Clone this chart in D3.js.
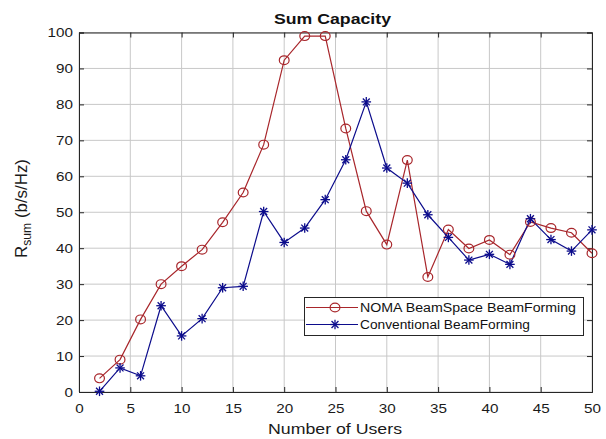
<!DOCTYPE html>
<html><head><meta charset="utf-8">
<script src="https://cdn.jsdelivr.net/npm/d3@7"></script>
<style>body{margin:0;background:#fff}svg{display:block}text{font-family:"Liberation Sans",Arial,sans-serif}</style>
</head><body><svg id="c" width="606" height="439"></svg>
<script>
const users = [2,4,6,8,10,12,14,16,18,20,22,24,26,28,30,32,34,36,38,40,42,44,46,48,50];
const noma = [3.8,9,20.2,30,35,39.6,47.2,55.5,68.8,92.3,99,99,73.3,50.3,41,64.5,32,45.2,39.9,42.3,38.2,47.3,45.6,44.3,38.6];
const conv = [0.2,6.7,4.5,24,15.6,20.4,29,29.4,50.2,41.6,45.6,53.5,64.6,80.7,62.3,58.1,49.3,43,36.7,38.3,35.5,48.2,42.4,39.2,45.1];
const xTicks = [0,5,10,15,20,25,30,35,40,45,50];
const yTicks = [0,10,20,30,40,50,60,70,80,90,100];
const seriesNames = ["NOMA BeamSpace BeamForming","Conventional BeamForming"];

const svg = d3.select("#c");
const L=79,R=592,T=32.5,B=392;
const x = d3.scaleLinear().domain([0,50]).range([L,R]);
const y = d3.scaleLinear().domain([0,100]).range([B,T]);
const red="#a8262b", blue="#0c0c8c";
const S=1.22;

// grid
const g = svg.append("g");
g.selectAll(".gx").data(xTicks).join("line").attr("x1",d=>x(d)).attr("x2",d=>x(d)).attr("y1",T).attr("y2",B).attr("stroke","#c8c8c8").attr("stroke-width",1);
g.selectAll(".gy").data(yTicks).join("line").attr("y1",d=>y(d)).attr("y2",d=>y(d)).attr("x1",L).attr("x2",R).attr("stroke","#c8c8c8").attr("stroke-width",1);

// axes
const ax = svg.append("g").attr("transform",`translate(0,${B})`).call(d3.axisBottom(x).tickValues(xTicks).tickSize(-5).tickPadding(12));
const ay = svg.append("g").attr("transform",`translate(${L},0)`).call(d3.axisLeft(y).tickValues(yTicks).tickSize(-5).tickPadding(6));
const at = svg.append("g").attr("transform",`translate(0,${T})`).call(d3.axisTop(x).tickValues(xTicks).tickSize(-5).tickFormat(""));
const ar = svg.append("g").attr("transform",`translate(${R},0)`).call(d3.axisRight(y).tickValues(yTicks).tickSize(-5).tickFormat(""));
[ax,ay,at,ar].forEach(a=>{
  a.selectAll("path,line").attr("stroke","#262626");
  a.selectAll("text").attr("font-size",12.5).attr("fill","#1a1a1a").attr("font-family","'Liberation Sans',Arial,sans-serif")
   .attr("x",function(){return (+this.getAttribute("x")||0)/S;}).attr("transform",`scale(${S},1)`);
});

// lines
const line = d3.line().x((d,i)=>x(users[i])).y(d=>y(d));
svg.append("path").datum(noma).attr("d",line).attr("fill","none").attr("stroke",red).attr("stroke-width",1.2);
svg.append("path").datum(conv).attr("d",line).attr("fill","none").attr("stroke",blue).attr("stroke-width",1.2);

svg.append("g").selectAll("ellipse").data(noma).join("ellipse").attr("cx",(d,i)=>x(users[i])).attr("cy",d=>y(d)).attr("rx",4.9).attr("ry",4.4).attr("fill","none").attr("stroke",red).attr("stroke-width",1.2);

function star(sel,cx,cy,s,color){
  const gg=sel.append("g").attr("transform",`translate(${cx},${cy})`).attr("stroke",color).attr("stroke-width",1.3);
  gg.append("line").attr("x1",-s).attr("x2",s).attr("y1",0).attr("y2",0);
  gg.append("line").attr("x1",0).attr("x2",0).attr("y1",-s).attr("y2",s);
  const k=s*0.72;
  gg.append("line").attr("x1",-k).attr("x2",k).attr("y1",-k).attr("y2",k);
  gg.append("line").attr("x1",-k).attr("x2",k).attr("y1",k).attr("y2",-k);
}
const sg=svg.append("g");
conv.forEach((d,i)=>star(sg,x(users[i]),y(d),4.8,blue));

// legend
const lg=svg.append("g");
lg.append("rect").attr("x",304.5).attr("y",297.5).attr("width",279).attr("height",38).attr("fill","#fff").attr("stroke","#262626").attr("stroke-width",1);
const ly=[307.5,324.5];
lg.append("line").attr("x1",306).attr("x2",358).attr("y1",ly[0]).attr("y2",ly[0]).attr("stroke",red).attr("stroke-width",1.2);
lg.append("ellipse").attr("cx",335).attr("cy",ly[0]).attr("rx",4.9).attr("ry",4.4).attr("fill","none").attr("stroke",red).attr("stroke-width",1.2);
lg.append("line").attr("x1",306).attr("x2",358).attr("y1",ly[1]).attr("y2",ly[1]).attr("stroke",blue).attr("stroke-width",1.2);
star(lg,335,ly[1],4.8,blue);
const lw=[216,170];
seriesNames.forEach((n,i)=>lg.append("text").attr("x",360).attr("y",ly[i]+4.3).attr("font-size",12.5).attr("fill","#111")
  .attr("textLength",lw[i]).attr("lengthAdjust","spacingAndGlyphs").text(n));

// titles
svg.append("text").attr("x",274).attr("y",24).attr("font-size",15).attr("font-weight","bold").attr("fill","#111")
  .attr("textLength",117).attr("lengthAdjust","spacingAndGlyphs").text("Sum Capacity");
svg.append("text").attr("x",268).attr("y",434).attr("font-size",14.5).attr("fill","#1a1a1a")
  .attr("textLength",134).attr("lengthAdjust","spacingAndGlyphs").text("Number of Users");
let fs=14;
const yl=svg.append("text").attr("transform",`translate(27,208.5) rotate(-90)`).attr("text-anchor","middle").attr("fill","#1a1a1a");
const t1=yl.append("tspan").text("R");
const t2=yl.append("tspan").attr("dy",4).text("sum");
const t3=yl.append("tspan").attr("dy",-4).text(" (b/s/Hz)");
function setFs(f){yl.attr("font-size",f);t2.attr("font-size",f*0.72);}
setFs(fs);
const len=yl.node().getComputedTextLength();
if(len>0){fs=fs*99/len;setFs(fs);}
</script></body></html>
